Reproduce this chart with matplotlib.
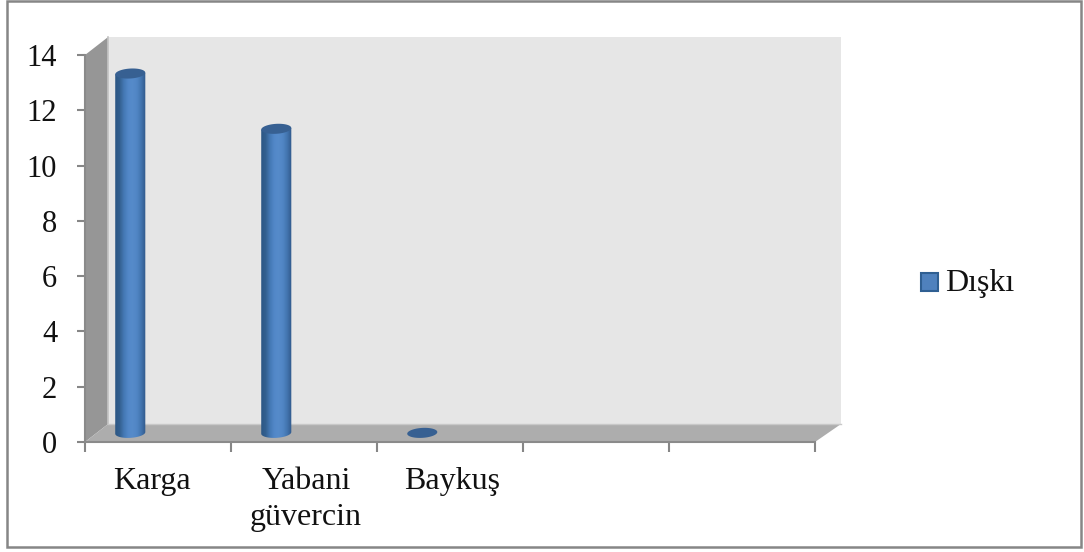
# 3D-looking cylinder column chart with flat matplotlib axes

import numpy as np
import matplotlib
matplotlib.use('Agg')
import matplotlib.pyplot as plt
from matplotlib.colors import LinearSegmentedColormap
from matplotlib.patches import PathPatch, Polygon, Rectangle
from matplotlib.path import Path

categories = ['Karga', 'Yabani\ngüvercin', 'Baykuş']
values = [13, 11, 0]
series_name = 'Dışkı'
y_ticks = [0, 2, 4, 6, 8, 10, 12, 14]
n_slots = 5

W, H = 1084, 552
plt.rcParams['font.family'] = ['Liberation Serif', 'DejaVu Serif']

# depth of the fake 3D box, in data units
depth_left = 0.158
depth_right = 0.178
depth_y = 0.65
# cylinder shape, in data units
bar_off_x = 0.31
bar_off_y = 0.33
bar_rx = 0.103
bar_ry = 0.18
bar_skew = 0.03

cyl = LinearSegmentedColormap.from_list(
    'cyl', ['#2c5785', '#33608f', '#4478b4', '#5288c8', '#568bca', '#5085c4', '#4274ae', '#30598a'])


def pane(ax, pts, color):
    ax.add_patch(Polygon(pts, closed=True, fc=color, ec='none', clip_on=False))


def ring(x, y, t):
    # slightly tilted ellipse outline
    return np.column_stack([x + bar_rx * np.cos(t),
                            y + bar_ry * np.sin(t) + bar_skew * np.cos(t)])


def cylinder(ax, x, val):
    top = val + bar_off_y
    if val > 0:
        # body with a rounded bottom, filled by a horizontal gradient
        t = np.linspace(np.pi, 2 * np.pi, 40)
        verts = np.vstack([ring(x, bar_off_y, t), ring(x, top, t[::-1][:1]), ring(x, top, t[:1])])
        body = PathPatch(Path(np.vstack([verts, verts[:1]]), closed=True),
                         fc='none', ec='none', transform=ax.transData)
        ax.add_patch(body)
        grad = np.linspace(0, 1, 64).reshape(1, -1)
        im = ax.imshow(grad, cmap=cyl, aspect='auto', zorder=3,
                       extent=[x - bar_rx, x + bar_rx, bar_off_y - bar_ry - bar_skew, top + bar_skew])
        im.set_clip_path(body)
    t = np.linspace(0, 2 * np.pi, 80)
    ax.add_patch(Polygon(ring(x, top, t), closed=True, fc='#376092', ec='none', zorder=4))


fig = plt.figure(figsize=(W / 100, H / 100), dpi=100)
ax = fig.add_axes([85 / W, (H - 442) / H, 730 / W, 387 / H])

# walls and floor of the box
pane(ax, [(depth_left, depth_y), (n_slots + depth_right, depth_y),
          (n_slots + depth_right, 14 + depth_y), (depth_left, 14 + depth_y)], '#e6e6e6')
pane(ax, [(0, 0), (depth_left, depth_y), (depth_left, 14 + depth_y), (0, 14)], '#969696')
pane(ax, [(0, 0), (n_slots, 0), (n_slots + depth_right, depth_y), (depth_left, depth_y)], '#adadad')
ax.plot([depth_left, depth_left], [depth_y, 14 + depth_y], color='#c4c4c4', lw=1.2, clip_on=False)
ax.plot([depth_left, n_slots + depth_right], [depth_y, depth_y], color='#c8c8c8', lw=1.0, clip_on=False)

for i, v in enumerate(values):
    cylinder(ax, i + bar_off_x, v)

ax.set_xlim(0, n_slots)
ax.set_ylim(0, 14)
ax.patch.set_alpha(0)
for s in ['top', 'right']:
    ax.spines[s].set_visible(False)
for s in ['left', 'bottom']:
    ax.spines[s].set_color('#8a8a8a')
    ax.spines[s].set_linewidth(1.5)
ax.set_yticks(y_ticks)
ax.set_xticks(range(n_slots + 1))
ax.set_xticklabels([])
ax.tick_params(axis='x', color='#868686', width=1.5, length=7)
ax.tick_params(axis='y', color='#868686', width=1.5, length=6,
               labelsize=22, pad=14, labelcolor='#111111')

for i, c in enumerate(categories):
    ax.annotate(c, xy=(i + 0.5, 0), xytext=(-6 if i == 0 else 2, -25),
                xycoords=('data', 'axes fraction'), textcoords='offset pixels',
                ha='center', va='top', fontsize=23, color='#111111', linespacing=1.34)

# legend key and label
fig.patches.append(Rectangle((921 / W, (H - 291) / H), 17 / W, 18 / H, transform=fig.transFigure,
                             fc='#4f81bd', ec='#2f5f92', lw=1.5, figure=fig))
fig.text(945 / W, (H - 284) / H, series_name, fontsize=23, color='#111111', va='center', ha='left')

# chart border
fig.patches.append(Rectangle((7 / W, (H - 547) / H), 1074 / W, 546 / H, transform=fig.transFigure,
                             fc='none', ec='#868686', lw=1.8, figure=fig))

fig.savefig('out.png', dpi=100)
